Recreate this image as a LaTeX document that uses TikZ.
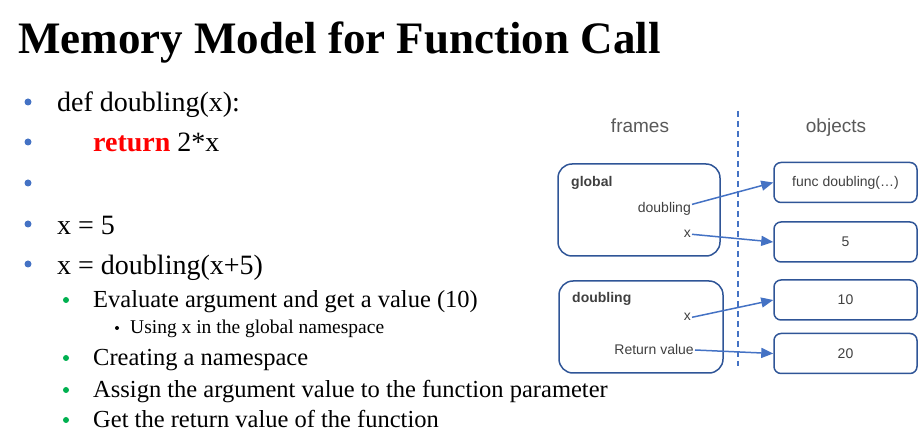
\documentclass[tikz,border=0pt]{standalone}
\usepackage{fontspec}
\setmainfont{Liberation Serif}
\setsansfont{Liberation Sans}
\usetikzlibrary{positioning,arrows.meta}

\definecolor{dotblue}{HTML}{4472C4}
\definecolor{dotgreen}{HTML}{00B050}
\definecolor{boxblue}{HTML}{2F5597}
\definecolor{arrowblue}{HTML}{4472C4}
\definecolor{labelgray}{HTML}{404040}
\definecolor{headgray}{HTML}{595959}

\begin{document}
\begin{tikzpicture}[
        x=1pt, y=-1pt,
        title/.style={anchor=base west, inner sep=0pt, font=\bfseries\fontsize{45}{50}\selectfont},
        item/.style={anchor=base west, inner sep=0pt, font=\fontsize{28}{32}\selectfont},
        subitem/.style={anchor=base west, inner sep=0pt, font=\fontsize{24.5}{28}\selectfont},
        subsubitem/.style={anchor=base west, inner sep=0pt, font=\fontsize{19.5}{22}\selectfont},
        dot/.style={circle, inner sep=0pt, minimum size=7pt, fill=dotblue},
        gdot/.style={circle, inner sep=0pt, minimum size=6pt, fill=dotgreen},
        kdot/.style={circle, inner sep=0pt, minimum size=4pt, fill=black},
        head/.style={anchor=base, font=\sffamily\fontsize{19}{22}\selectfont, text=headgray},
        frame/.style={draw=boxblue, line width=1.5pt, rounded corners=14pt},
        objbox/.style={draw=boxblue, line width=1.5pt, rounded corners=7pt, minimum width=143pt, font=\sffamily\fontsize{14}{16}\selectfont, text=labelgray},
        lbl/.style={font=\sffamily\fontsize{14}{16}\selectfont, text=labelgray, inner sep=1pt},
        arrow/.style={draw=arrowblue, line width=1.5pt, -{Triangle[length=12pt,width=10pt]}}
    ]
        \useasboundingbox (0,0) rectangle (922,438);

        % slide text
        \node (heading) [title] at (18,54) {Memory Model for Function Call};

        \node (d1) [dot] at (28,102) {};
        \node (t1) [item] at (57,112) {def doubling(x):};
        \node (d2) [dot] at (28,142) {};
        \node (t2) [item] at (93,152) {\textcolor{red}{\bfseries return} 2*x};
        \node (d3) [dot] at (28,183) {};
        \node (d4) [dot] at (28,224) {};
        \node (t4) [item] at (57,235) {x = 5};
        \node (d5) [dot] at (28,264) {};
        \node (t5) [item] at (57,275) {x = doubling(x+5)};

        \node (g1) [gdot] at (66,300) {};
        \node (s1) [subitem] at (93,308) {Evaluate argument and get a value (10)};
        \node (k1) [kdot] at (117,328) {};
        \node (ss1) [subsubitem] at (130,334) {Using x in the global namespace};
        \node (g2) [gdot] at (66,358) {};
        \node (s2) [subitem] at (93,366) {Creating a namespace};
        \node (g3) [gdot] at (66,390) {};
        \node (s3) [subitem] at (93,398) {Assign the argument value to the function parameter};
        \node (g4) [gdot] at (66,420) {};
        \node (s4) [subitem] at (93,428) {Get the return value of the function};

        % memory model
        \node (frameshead) [head] at (640,133) {frames};
        \node (objectshead) [head] at (836,133) {objects};
        \coordinate (divtop) at (738,111);
        \coordinate (divbot) at (738,366);
        \draw[arrowblue, line width=1.5pt, dash pattern=on 6pt off 4pt] (divtop) -- (divbot);

        \node (globalframe) [frame, minimum width=162pt, minimum height=92pt] at (639,210) {};
        \node (localframe) [frame, minimum width=164pt, minimum height=92pt] at (641,327) {};

        \node (globalname) [lbl, font=\sffamily\bfseries\fontsize{14}{16}\selectfont, anchor=base west] at (570,187) {global};
        \node (gdoubling) [lbl, anchor=base east] at (692,213) {doubling};
        \node (gx) [lbl, anchor=base east] at (692,238) {x};
        \node (localname) [lbl, font=\sffamily\bfseries\fontsize{14}{16}\selectfont, anchor=base west] at (571,303) {doubling};
        \node (lx) [lbl, anchor=base east] at (692,321) {x};
        \node (lret) [lbl, anchor=base east] at (695,355) {Return value};

        \node (funcobj) [objbox, minimum height=40pt] at (845.5,182.5) {func doubling(\dots)};
        \node (fiveobj) [objbox, minimum height=40pt] at (845.5,242) {5};
        \node (tenobj) [objbox, minimum height=40pt] at (845.5,300) {10};
        \node (twentyobj) [objbox, minimum height=40pt] at (845.5,353.5) {20};

        \draw[arrow] ([yshift=5pt]gdoubling.east) -- (funcobj.west);
        \draw[arrow] (gx.east) -- (fiveobj.west);
        \draw[arrow] (lx.east) -- (tenobj.west);
        \draw[arrow] (lret.east) -- (twentyobj.west);
    \end{tikzpicture}
\end{document}
